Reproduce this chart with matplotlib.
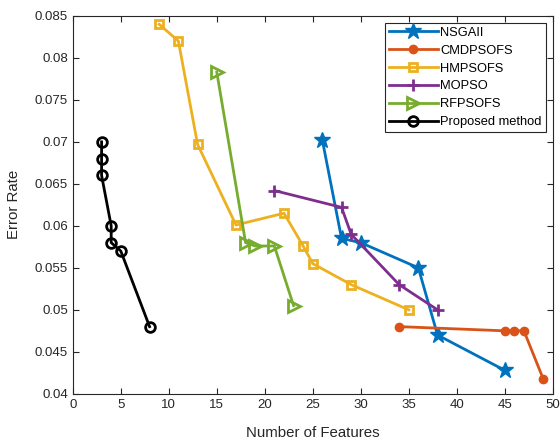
import matplotlib.pyplot as plt

plt.rcParams['font.family'] = ['Liberation Sans', 'DejaVu Sans']

# data
nsga_x = [26, 28, 30, 36, 38, 45]
nsga_y = [0.0702, 0.0585, 0.0580, 0.0550, 0.0470, 0.0428]
cmd_x = [34, 45, 46, 47, 49]
cmd_y = [0.0480, 0.0475, 0.0475, 0.0475, 0.0418]
hmp_x = [9, 11, 13, 17, 22, 24, 25, 29, 35]
hmp_y = [0.0840, 0.0820, 0.0697, 0.0601, 0.0615, 0.0576, 0.0555, 0.0530, 0.0500]
mop_x = [21, 28, 29, 34, 38]
mop_y = [0.0642, 0.0622, 0.0590, 0.0530, 0.0500]
rfp_x = [15, 18, 19, 21, 23]
rfp_y = [0.0783, 0.0580, 0.0576, 0.0576, 0.0505]
prop_x = [3, 3, 3, 4, 4, 5, 8]
prop_y = [0.0700, 0.0680, 0.0660, 0.0600, 0.0580, 0.0570, 0.0480]

fig = plt.figure(figsize=(5.6, 4.41), dpi=100)
ax = fig.add_axes([0.130, 0.107, 0.857, 0.857])

lw = 2
ax.plot(nsga_x, nsga_y, '-*', color='#0072BD', lw=lw, ms=12, label='NSGAII')
ax.plot(cmd_x, cmd_y, '-o', color='#D95319', lw=lw, ms=6, label='CMDPSOFS')
ax.plot(hmp_x, hmp_y, '-s', color='#EDB120', lw=lw, ms=6, mfc='none', mew=2, label='HMPSOFS')
ax.plot(mop_x, mop_y, '-+', color='#7E2F8E', lw=lw, ms=8, mew=2, label='MOPSO')
ax.plot(rfp_x, rfp_y, '->', color='#77AC30', lw=lw, ms=9, mfc='none', mew=2, label='RFPSOFS')
ax.plot(prop_x, prop_y, '-o', color='black', lw=lw, ms=7, mfc='none', mew=2, label='Proposed method')

ax.set_xlim(0, 50)
ax.set_ylim(0.04, 0.085)
ax.set_xticks(range(0, 51, 5))
ax.set_yticks([0.04, 0.045, 0.05, 0.055, 0.06, 0.065, 0.07, 0.075, 0.08, 0.085])
ax.set_yticklabels(['0.04', '0.045', '0.05', '0.055', '0.06', '0.065', '0.07', '0.075', '0.08', '0.085'])
ax.tick_params(direction='in', top=True, right=True, labelsize=9.5, colors='#262626', length=4)
for s in ax.spines.values():
    s.set_color('#262626')
    s.set_linewidth(0.8)
ax.set_xlabel('Number of Features', fontsize=10.8, color='#262626', labelpad=11)
ax.set_ylabel('Error Rate', fontsize=10.8, color='#262626', labelpad=10)

leg = ax.legend(loc='upper right', fontsize=9.3, fancybox=False, edgecolor='#262626',
                framealpha=1, handlelength=3.8, borderaxespad=0.55, labelspacing=0.45,
                borderpad=0.3, handletextpad=0.2)
leg.get_frame().set_linewidth(0.8)

fig.savefig('out.png', dpi=100)
